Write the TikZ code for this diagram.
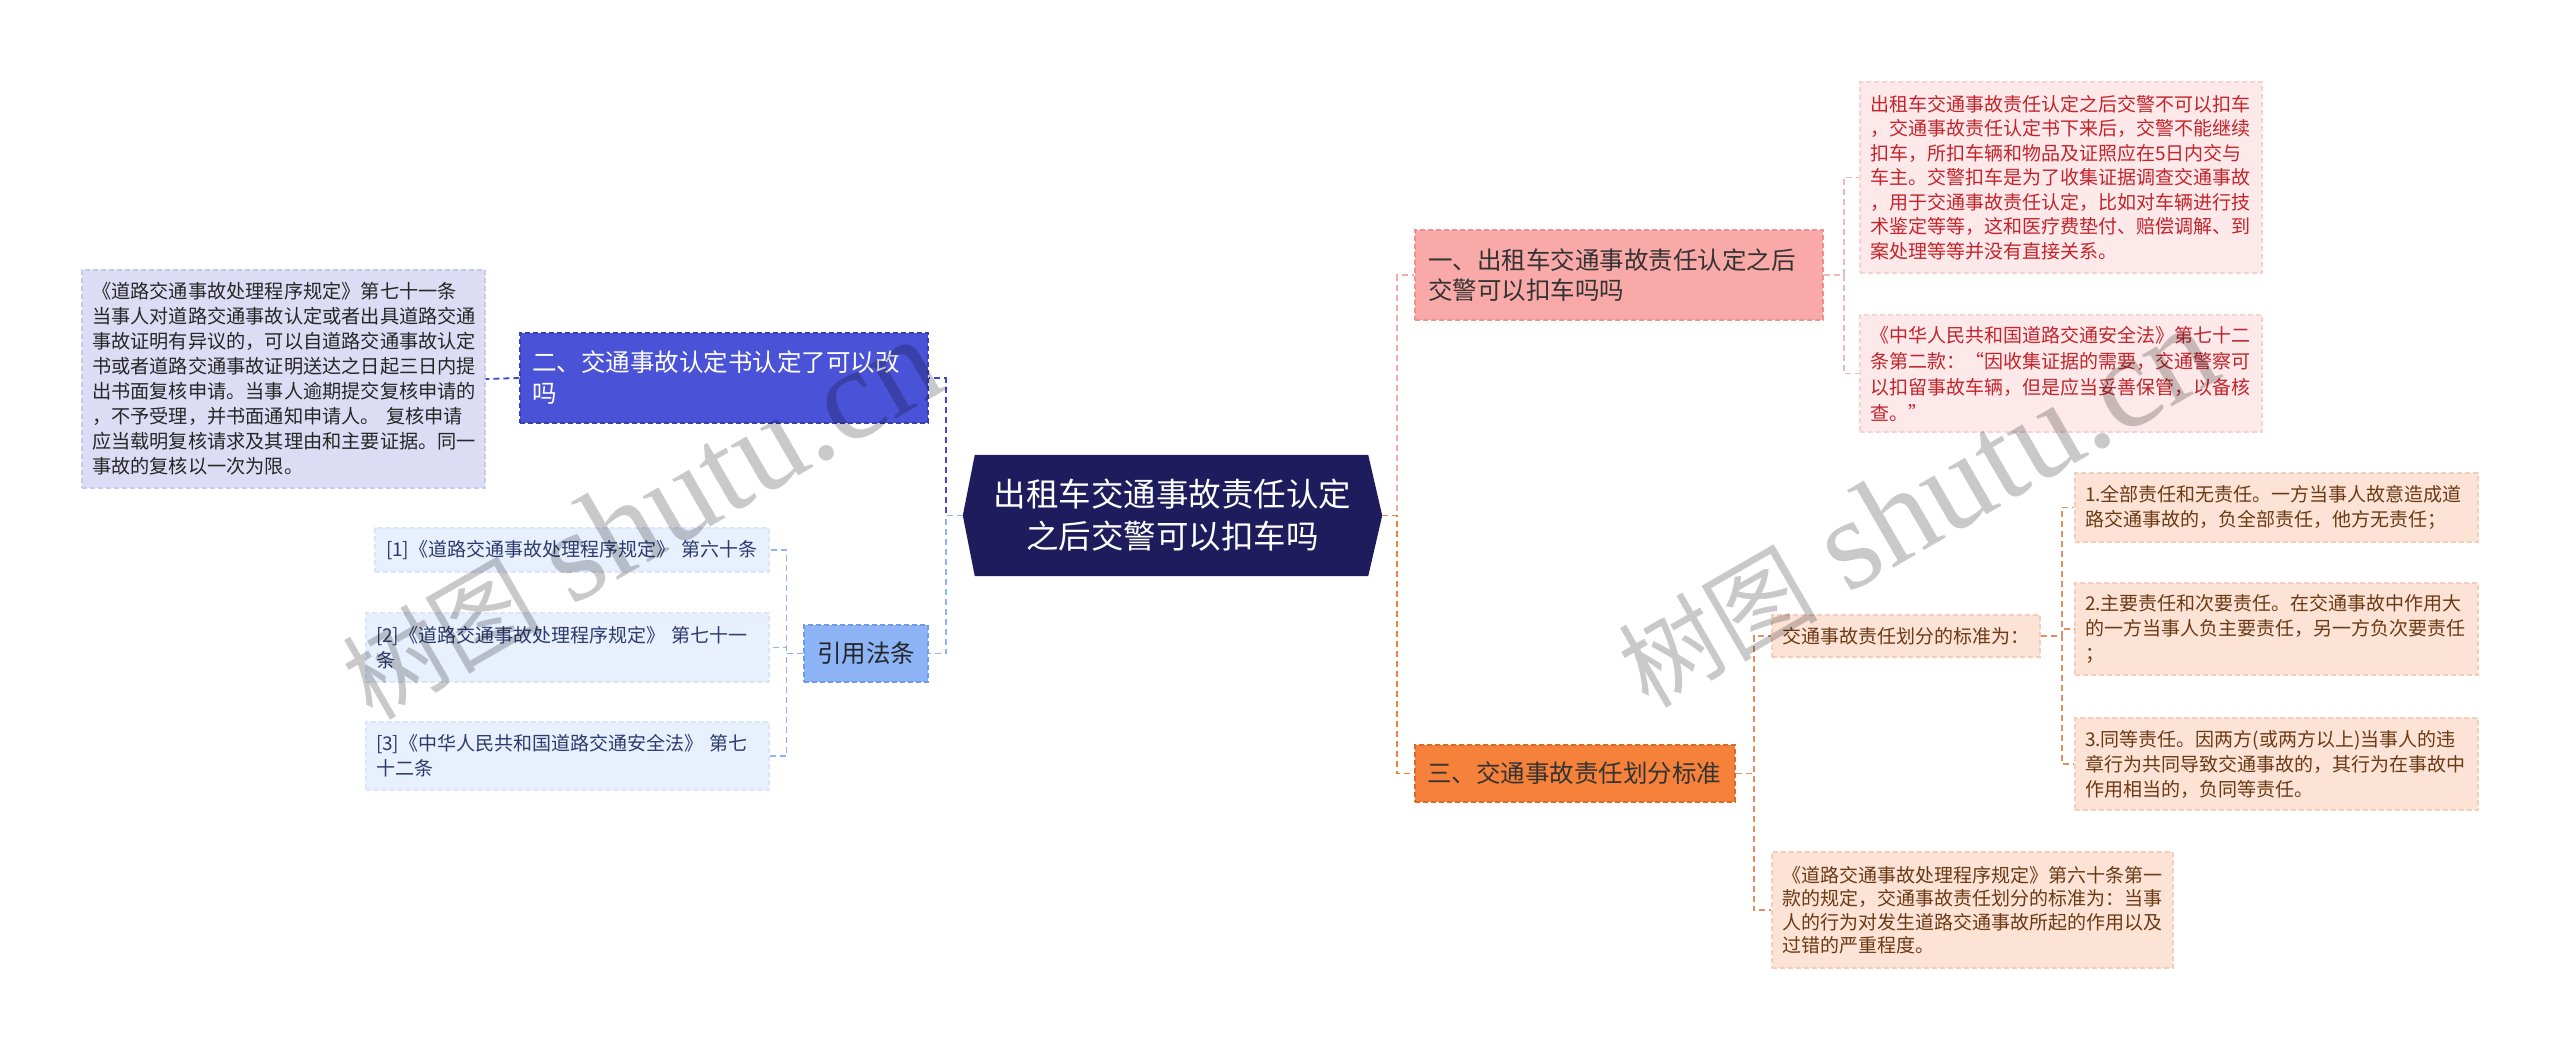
\documentclass[tikz,border=0pt]{standalone}
\usepackage{fontspec}
\setmainfont{Noto Sans CJK SC}
\newfontfamily\wmlat{Liberation Serif}
\usetikzlibrary{calc}
\definecolor{navy}{HTML}{1F1C5E}
\definecolor{bluetwo}{HTML}{4A52D8}
\definecolor{bluetwoB}{HTML}{3540B8}
\definecolor{lav}{HTML}{DCDDF5}
\definecolor{lavB}{HTML}{C7C9EE}
\definecolor{lblue}{HTML}{8CB4F6}
\definecolor{lblueB}{HTML}{6F9BEA}
\definecolor{refbg}{HTML}{E8F0FD}
\definecolor{refB}{HTML}{D9E5FA}
\definecolor{reftext}{HTML}{2B3B6E}
\definecolor{pinkA}{HTML}{F9A9A8}
\definecolor{pinkB}{HTML}{EE9090}
\definecolor{dbg}{HTML}{FDE9E9}
\definecolor{dB}{HTML}{F7D2D2}
\definecolor{redtext}{HTML}{C3242B}
\definecolor{orangeA}{HTML}{F5813B}
\definecolor{orangeB}{HTML}{DD6A24}
\definecolor{peach}{HTML}{FCE3D6}
\definecolor{peachB}{HTML}{F5CDB8}
\definecolor{browntext}{HTML}{6B3A14}
\definecolor{cdb}{HTML}{4048C8}
\definecolor{clb}{HTML}{8CB4F6}
\definecolor{cpk}{HTML}{F2AAAA}
\definecolor{cpkl}{HTML}{F0B8B8}
\definecolor{cor}{HTML}{F08235}
\definecolor{corl}{HTML}{E09060}
\tikzset{
  conn/.style={line width=1.8pt, dash pattern=on 6pt off 4pt},
  box/.style={rectangle, inner ysep=0pt, align=left, dash pattern=on 5pt off 3pt, line width=1.2pt},
  wm/.style={text=black, text opacity=0.21, inner sep=0pt},
}
\begin{document}
\begin{tikzpicture}[x=1pt,y=-1pt]
\useasboundingbox (0,0) rectangle (2560,1051);
\fill[white] (0,0) rectangle (2560,1051);

% centre
\node[minimum width=419pt, minimum height=121pt, inner sep=0pt] (c) at (1172.5,515.5) {};
\fill[navy] (c.west) -- ([xshift=12pt]c.north west) -- ([xshift=-14pt]c.north east) -- (c.east)
  -- ([xshift=-14pt]c.south east) -- ([xshift=12pt]c.south west) -- cycle;
\node[align=center, text=white, inner sep=0pt, font=\fontsize{32.5}{42}\selectfont] (ct) at (c.center) {出租车交通事故责任认定\\之后交警可以扣车吗};

% left branch
\node[box, fill=bluetwo, draw=bluetwoB, text=white, minimum width=408pt, minimum height=90pt, inner xsep=12pt, text width=384pt, font=\fontsize{24.5}{31}\selectfont] (n2) at (724,378) {二、交通事故认定书认定了可以改\\吗};
\node[box, fill=lav, draw=lavB, text=black!85, minimum width=403pt, minimum height=218pt, inner xsep=10pt, text width=383pt, font=\fontsize{19.2}{25}\selectfont] (ld) at (283.5,379) {《道路交通事故处理程序规定》第七十一条\\当事人对道路交通事故认定或者出具道路交通\\事故证明有异议的，可以自道路交通事故认定\\书或者道路交通事故证明送达之日起三日内提\\出书面复核申请。当事人逾期提交复核申请的\\，不予受理，并书面通知申请人。 复核申请\\应当载明复核请求及其理由和主要证据。同一\\事故的复核以一次为限。};
\node[box, align=center, fill=lblue, draw=lblueB, text=black!85, minimum width=124pt, minimum height=57pt, inner xsep=0pt, font=\fontsize{24.5}{30}\selectfont] (yy) at (866,653.5) {引用法条};
\node[box, fill=refbg, draw=refB, text=reftext, minimum width=394pt, minimum height=44pt, inner xsep=11pt, text width=372pt, font=\fontsize{19}{25}\selectfont] (r1) at (572,550) {[1]《道路交通事故处理程序规定》 第六十条};
\node[box, fill=refbg, draw=refB, text=reftext, minimum width=403pt, minimum height=69pt, inner xsep=10pt, text width=383pt, font=\fontsize{19}{25}\selectfont] (r2) at (567.5,647.5) {[2]《道路交通事故处理程序规定》 第七十一\\条};
\node[box, fill=refbg, draw=refB, text=reftext, minimum width=403pt, minimum height=68pt, inner xsep=10pt, text width=383pt, font=\fontsize{19}{25}\selectfont] (r3) at (567.5,756) {[3]《中华人民共和国道路交通安全法》 第七\\十二条};

% right branch
\node[box, fill=pinkA, draw=pinkB, text=black!80, minimum width=408pt, minimum height=90pt, inner xsep=13pt, text width=382pt, font=\fontsize{24.5}{30}\selectfont] (n1) at (1619,275) {一、出租车交通事故责任认定之后\\交警可以扣车吗吗};
\node[box, fill=dbg, draw=dB, text=redtext, minimum width=402pt, minimum height=191pt, inner xsep=10pt, text width=382pt, font=\fontsize{19}{24.5}\selectfont] (d1) at (2061,177.5) {出租车交通事故责任认定之后交警不可以扣车\\，交通事故责任认定书下来后，交警不能继续\\扣车，所扣车辆和物品及证照应在5日内交与\\车主。交警扣车是为了收集证据调查交通事故\\，用于交通事故责任认定，比如对车辆进行技\\术鉴定等等，这和医疗费垫付、赔偿调解、到\\案处理等等并没有直接关系。};
\node[box, fill=dbg, draw=dB, text=redtext, minimum width=402pt, minimum height=117pt, inner xsep=10pt, text width=382pt, font=\fontsize{19}{26}\selectfont] (d2) at (2061,373.5) {《中华人民共和国道路交通安全法》第七十二\\条第二款：“因收集证据的需要，交通警察可\\以扣留事故车辆，但是应当妥善保管，以备核\\查。”};
\node[box, fill=orangeA, draw=orangeB, text=black!80, minimum width=320pt, minimum height=57pt, inner xsep=12pt, text width=296pt, font=\fontsize{24.5}{30}\selectfont] (n3) at (1575,773.5) {三、交通事故责任划分标准};
\node[box, fill=peach, draw=peachB, text=browntext, minimum width=268pt, minimum height=42pt, inner xsep=10pt, text width=248pt, font=\fontsize{19}{25}\selectfont] (s0) at (1906,636) {交通事故责任划分的标准为：};
\node[box, fill=peach, draw=peachB, text=browntext, minimum width=403pt, minimum height=69pt, inner xsep=10pt, text width=383pt, font=\fontsize{19}{25}\selectfont] (s1) at (2276.5,507.5) {1.全部责任和无责任。一方当事人故意造成道\\路交通事故的，负全部责任，他方无责任；};
\node[box, fill=peach, draw=peachB, text=browntext, minimum width=403pt, minimum height=92pt, inner xsep=10pt, text width=383pt, font=\fontsize{19}{25}\selectfont] (s2) at (2276.5,629) {2.主要责任和次要责任。在交通事故中作用大\\的一方当事人负主要责任，另一方负次要责任\\；};
\node[box, fill=peach, draw=peachB, text=browntext, minimum width=403pt, minimum height=92pt, inner xsep=10pt, text width=383pt, font=\fontsize{19}{25}\selectfont] (s3) at (2276.5,764) {3.同等责任。因两方(或两方以上)当事人的违\\章行为共同导致交通事故的，其行为在事故中\\作用相当的，负同等责任。};
\node[box, fill=peach, draw=peachB, text=browntext, minimum width=401pt, minimum height=116pt, inner xsep=10pt, text width=381pt, font=\fontsize{19}{23.5}\selectfont] (s4) at (1972.5,910) {《道路交通事故处理程序规定》第六十条第一\\款的规定，交通事故责任划分的标准为：当事\\人的行为对发生道路交通事故所起的作用以及\\过错的严重程度。};

% connectors
\draw[conn, cdb] (c.west) -- ++(-17,0) |- (n2.east);
\draw[conn, clb] (c.west) -- ++(-17,0) |- (yy.east);
\draw[conn, cdb] (n2.west) -- (ld.east);
\draw[conn, clb] (yy.west) -- ++(-17,0) |- (r1.east);
\draw[conn, clb] (yy.west) -- ++(-17,0) |- (r2.east);
\draw[conn, clb] (yy.west) -- ++(-17,0) |- (r3.east);
\draw[conn, cpk] (c.east) -- ++(15,0) |- (n1.west);
\draw[conn, cor] (c.east) -- ++(15,0) |- (n3.west);
\draw[conn, cpkl] (n1.east) -- ++(20,0) |- (d1.west);
\draw[conn, cpkl] (n1.east) -- ++(20,0) |- (d2.west);
\draw[conn, corl] (n3.east) -- ++(18,0) |- (s0.west);
\draw[conn, corl] (n3.east) -- ++(18,0) |- (s4.west);
\draw[conn, corl] (s0.east) -- ++(21,0) |- (s1.west);
\draw[conn, corl] (s0.east) -- ++(21,0) |- (s2.west);
\draw[conn, corl] (s0.east) -- ++(21,0) |- (s3.west);

% watermarks
\node[wm, anchor=base west, rotate=30] (w1) at (372,722) {{\fontsize{100}{102}\selectfont 树图}\hspace{30pt}{\wmlat\fontsize{130}{135}\selectfont shutu.cn}};
\node[wm, anchor=base west, rotate=30] (w2) at (1648,710) {{\fontsize{100}{102}\selectfont 树图}\hspace{30pt}{\wmlat\fontsize{130}{135}\selectfont shutu.cn}};
\end{tikzpicture}
\end{document}
